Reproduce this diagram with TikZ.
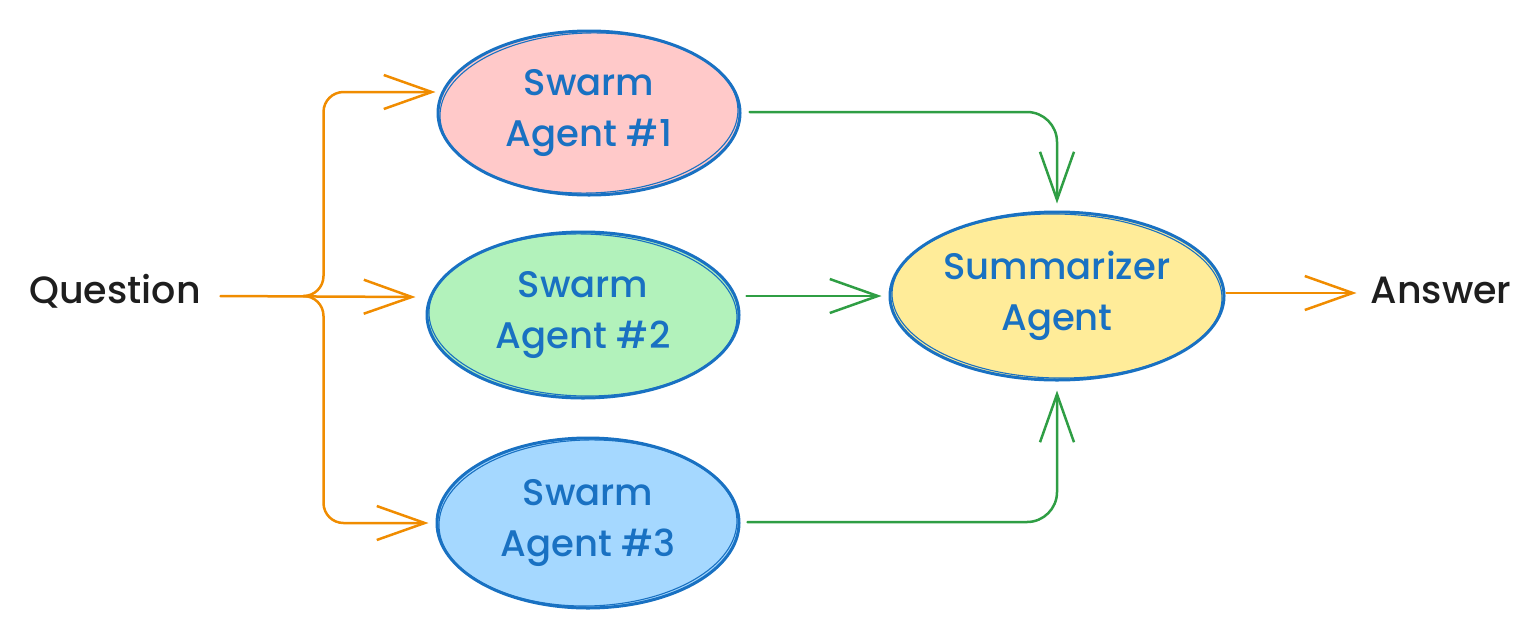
\documentclass[tikz,border=0pt]{standalone}
\usepackage{fontspec}
\setmainfont{Poppins}[UprightFont=* Medium]
\usetikzlibrary{shapes.geometric,arrows.meta,calc}
\definecolor{eblue}{HTML}{1971C2}
\definecolor{eorange}{HTML}{F08C00}
\definecolor{egreen}{HTML}{2F9E44}
\definecolor{etext}{HTML}{1E1E1E}
\definecolor{fpink}{HTML}{FFC9C9}
\definecolor{fgreen}{HTML}{B2F2BB}
\definecolor{fblue}{HTML}{A5D8FF}
\definecolor{fyellow}{HTML}{FFEC99}
\begin{document}
\begin{tikzpicture}[x=1pt,y=-1pt,
  agent/.style={ellipse, draw=eblue, line width=3pt, inner sep=0pt, align=center,
    text=eblue, font=\fontsize{37}{51}\selectfont},
  plainlbl/.style={text=etext, font=\fontsize{38}{44}\selectfont, inner sep=0pt, anchor=base},
  sketch/.style={draw=eblue, line width=1.1pt},
  tipv/.style={-{Straight Barb[length=48pt,width=34pt,line width=2.5pt]}},
  oarrow/.style={draw=eorange, line width=2.5pt, line cap=round, line join=round, tipv},
  garrow/.style={draw=egreen, line width=2.5pt, line cap=round, line join=round, tipv},
]
\useasboundingbox (0,0) rectangle (1530,630);

\node[agent, fill=fpink, minimum width=302, minimum height=164] (a1) at (589,113) {Swarm\\Agent \#1};
\node[agent, fill=fgreen, minimum width=312, minimum height=166] (a2) at (583,315) {Swarm\\Agent \#2};
\node[agent, fill=fblue, minimum width=302, minimum height=170] (a3) at (588,523) {Swarm\\Agent \#3};
\node[agent, fill=fyellow, minimum width=334, minimum height=168] (s) at (1057,296) {Summarizer\\Agent};

% sketchy second strokes
\draw[sketch, rotate around={1.5:(a1.center)}] (a1.center) ellipse [x radius=149, y radius=80];
\draw[sketch, rotate around={-1.2:(a2.center)}] (a2.center) ellipse [x radius=154, y radius=81];
\draw[sketch, rotate around={1.2:(a3.center)}] (a3.center) ellipse [x radius=149, y radius=83];
\draw[sketch, rotate around={-1:(s.center)}] (s.center) ellipse [x radius=165, y radius=82];

\node[plainlbl] (q) at (115,303) {Question};
\node[plainlbl] (ans) at (1441,303) {Answer};

% orange fan-out
\coordinate (jn) at ($(a2.west)+(-122,-19)$);
\coordinate (qo) at ($(jn)+(-83,0)$);
\coordinate (t1) at ($(a1.west)+(-1,-21)$);
\coordinate (t2) at ($(a2.west)+(-10,-18)$);
\coordinate (t3) at ($(a3.west)+(-7,0)$);
\draw[oarrow] (qo) -- (t2);
\draw[oarrow, rounded corners=20] (jn) -- ++(20,0) |- (t1);
\draw[oarrow, rounded corners=20] (jn) -- ++(20,0) |- (t3);

% green merges
\draw[garrow, rounded corners=30] ($(a1.east)+(8,-1)$) -| ($(s.north)+(0,-7)$);
\draw[garrow] ($(s.west)+(-142,0)$) -- ($(s.west)+(-7,0)$);
\draw[garrow, rounded corners=30] ($(a3.east)+(7,-1)$) -| ($(s.south)+(0,9)$);

% answer
\draw[oarrow] ($(s.east)+(1,-3)$) -- ($(s.east)+(131,-3)$);
\end{tikzpicture}
\end{document}
